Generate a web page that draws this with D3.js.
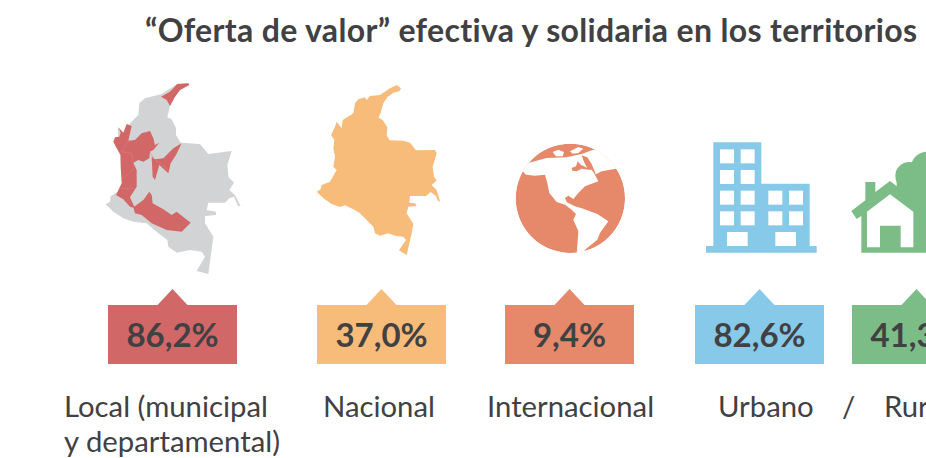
<!DOCTYPE html>
<html>
<head>
<meta charset="utf-8">
<script src="https://cdn.jsdelivr.net/npm/d3@7"></script>
<style>
  html, body { margin: 0; padding: 0; background: #fff; overflow: hidden; }
  svg { display: block; font-family: Lato, sans-serif; }
</style>
</head>
<body>
<svg id="canvas" width="926" height="458"></svg>
<script>
const title = '“Oferta de valor” efectiva y solidaria en los territorios'
const categories = ['Local', 'Nacional', 'Internacional', 'Urbano', 'Rural']
const values = [86.2, 37.0, 9.4, 82.6, 41.3]
const labelLines = [
    ['Local (municipal', 'y departamental)'],
    ['Nacional'],
    ['Internacional'],
    ['Urbano'],
    ['Rural']
]
const colors = ['#d16766', '#f8bc7a', '#e6886a', '#87c9e8', '#7cbd87']

const svg = d3.select('#canvas')
const ink = '#414042'

// the boxes are not evenly spaced in the original, so the scale maps onto hand-picked slots
const xScale = d3.scaleOrdinal().domain(categories).range([108, 317, 505, 695, 852])
const labelX = d3.scaleOrdinal().domain(categories).range([64, 323, 487, 718, 884])
const boxW = 129, boxTop = 305, boxH = 59, tipH = 16, tipHalf = 15
const comma = d3.format('.1f')

svg.append('text')
    .attr('x', 145).attr('y', 42)
    .attr('font-size', 32).attr('font-weight', 700).attr('letter-spacing', 0.34).attr('fill', ink)
    .text(title)

// value boxes with the small pointer on top
const boxes = svg.selectAll('g.box')
    .data(categories)
    .enter()
    .append('g')
        .attr('class', 'box')
        .attr('transform', d => `translate(${xScale(d)}, ${boxTop})`)

boxes.append('path')
    .attr('d', `M0 0H${boxW / 2 - tipHalf}L${boxW / 2} ${-tipH}L${boxW / 2 + tipHalf} 0H${boxW}V${boxH}H0Z`)
    .attr('fill', (d, i) => colors[i])

boxes.append('text')
    .attr('x', boxW / 2).attr('y', 42)
    .attr('text-anchor', 'middle')
    .attr('font-size', 33).attr('font-weight', 700).attr('fill', ink)
    .text((d, i) => `${comma(values[i]).replace('.', ',')}%`)

// labels under the boxes
categories.forEach((c, i) => {
    labelLines[i].forEach((line, j) => {
        svg.append('text')
            .attr('x', labelX(c)).attr('y', 417 + j * 35)
            .attr('font-size', 29.3).attr('fill', ink)
            .text(line)
    })
})
svg.append('text')
    .attr('x', 842).attr('y', 417)
    .attr('font-size', 29.3).attr('fill', ink)
    .text('/')

const icon = (x, y) => svg.append('g').attr('transform', `translate(${x}, ${y}) scale(${1 / 3})`)

// Colombia, local version: grey country with red departments
icon(90, 70).append('path')
    .attr('fill', '#d1d3d4')
    .attr('d', 'M295 40L298 45L270 60L255 80L240 108L232 142L245 148L258 175L258 195L272 218L330 222L355 252L425 243L412 285L415 320L432 338L418 360L435 375L452 408L444 408L432 380L418 385L405 398L355 398L350 420L378 425L378 435L345 438L345 460L370 500L355 612L320 603L345 560L335 545L300 540L260 548L235 530L232 510L205 490L170 460L130 455L100 445L70 425L47 403L60 395L62 378L90 362L100 325L92 280L90 255L72 220L85 205L83 170L95 190L110 180L120 160L145 135L148 100L165 85L215 72L262 42Z')
icon(90, 70).append('path')
    .attr('fill', colors[0])
    .attr('d', 'M295 40L298 45L270 60L255 80L240 108L230 90L213 80L240 65L262 42Z')
const depts = icon(100, 120)
depts.selectAll('path.dept')
    .data([
        'M80 12L95 18L90 40L85 62L105 60L125 40L150 33L160 55L165 75L178 68L160 90L150 95L148 115L130 125L115 120L100 128L110 150L110 200L90 232L105 265L90 260L70 238L48 225L65 190L62 140L62 105L48 80L40 65L45 52L58 50L62 38L55 22L70 38Z',
        'M245 70L228 105L212 130L205 160L178 135L165 180L158 170L155 110L165 118L190 115L205 100L220 85Z',
        'M148 215L155 225L158 250L190 268L215 285L230 275L272 308L245 335L200 330L155 310L125 285L105 280L100 262L130 240Z'
    ])
    .enter()
    .append('path')
        .attr('class', 'dept')
        .attr('fill', colors[0])
        .attr('d', d => d)
// faint department borders
depts.append('path')
    .attr('fill', 'none').attr('stroke', '#dc8583').attr('stroke-width', 1.5)
    .attr('d', 'M85 62L65 95L95 100L100 128L100 150L65 178M65 205L105 205M150 95L160 115L205 150')

// Colombia, national version
icon(300, 70).append('path')
    .attr('fill', colors[1])
    .attr('d', 'M290 45L303 55L298 64L280 68L262 82L250 100L243 125L236 143L248 150L262 172L260 195L268 211L310 212L330 218L348 241L405 240L410 250L398 290L402 320L410 332L395 345L410 360L420 394L414 394L408 378L392 366L378 378L330 378L328 398L345 400L350 408L325 410L320 430L340 462L335 490L320 555L297 541L318 510L310 500L285 497L265 490L240 497L225 490L220 470L200 450L180 430L160 418L135 406L120 411L95 402L70 385L50 365L62 358L65 345L90 335L110 300L100 290L105 260L100 235L103 210L93 195L105 170L110 155L125 175L128 150L160 130L165 100L175 88L195 82L200 90L210 78L240 75L270 55Z')

// globe
const globe = icon(510, 138)
globe.append('clipPath').attr('id', 'globeClip')
    .append('circle').attr('cx', 181).attr('cy', 181).attr('r', 164)
const globeG = globe.append('g').attr('clip-path', 'url(#globeClip)')
globeG.append('circle').attr('cx', 181).attr('cy', 181).attr('r', 164).attr('fill', colors[2])
globeG.append('path')
    .attr('fill', '#fff')
    .attr('d', 'M20 105L38 100L48 110L75 113L105 110L112 135L118 165L140 192L165 200L185 215L198 228L190 245L205 280L200 350L220 350L225 335L262 305L270 285L295 250L262 228L220 212L195 205L185 200L170 192L165 180L175 173L190 183L205 165L225 145L265 130L255 110L275 100L318 92L370 92L370 0L250 35L215 48L170 58L110 60L55 75L20 60Z')
globeG.append('path')
    .attr('fill', colors[2])
    .attr('d', 'M215 52L232 58L245 78L262 120L245 95L235 95L215 92L200 100L187 98L185 90L198 85L203 70L212 80L222 85L232 90L222 72Z')
globeG.append('path')
    .attr('fill', '#fff')
    .attr('d', 'M128 42L145 35L162 42L158 55L138 55ZM180 40L205 27L220 32L205 45L188 47Z')

// building
const building = icon(690, 130)
building.append('path')
    .attr('fill', colors[3])
    .attr('d', 'M48 348H70V37H214V161H359V348H380V368H48Z')
const windowXs = [90, 152, 235, 297]
const windowYs = [58, 120, 182, 244]
windowXs.forEach((x, i) => windowYs.forEach((y, j) => {
    if (i > 1 && j < 2) return
    building.append('rect').attr('x', x).attr('y', y).attr('width', 42).attr('height', 42).attr('fill', '#fff')
}))
;[111, 256].forEach(x => {
    building.append('rect').attr('x', x).attr('y', 306).attr('width', 62).attr('height', 42).attr('fill', '#fff')
})

// house and tree, running off the right edge
const house = icon(690, 130)
const green = colors[4]
house.append('circle').attr('cx', 658).attr('cy', 138).attr('r', 42).attr('fill', green)
house.append('circle').attr('cx', 712).attr('cy', 115).attr('r', 50).attr('fill', green)
house.append('rect').attr('x', 620).attr('y', 130).attr('width', 100).attr('height', 145).attr('fill', green)
house.append('path').attr('fill', green)
    .attr('d', 'M526 156H556V186L600 153L716 243V368H514V258L500 267L484 243L526 211Z')
house.append('path').attr('fill', '#fff')
    .attr('d', 'M600 193L670 245V352H632V287H570V352H531V245Z')
</script>
</body>
</html>
